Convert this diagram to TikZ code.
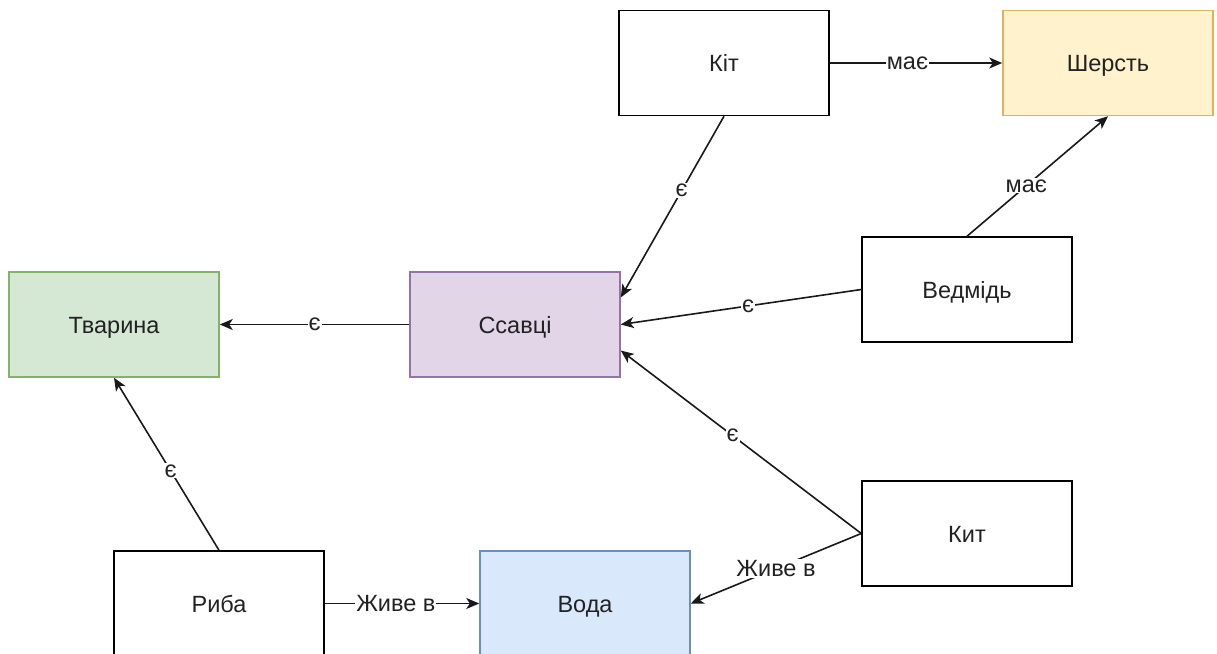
\documentclass[tikz,border=0pt]{standalone}
\usepackage{fontspec}
\setmainfont{Liberation Sans}
\usetikzlibrary{arrows.meta}
\definecolor{txt}{HTML}{222222}
\definecolor{greenF}{HTML}{D5E8D4}\definecolor{greenD}{HTML}{82B366}
\definecolor{purpF}{HTML}{E1D5E7}\definecolor{purpD}{HTML}{9673A6}
\definecolor{yelF}{HTML}{FFF2CC}\definecolor{yelD}{HTML}{D6B656}
\definecolor{blueF}{HTML}{DAE8FC}\definecolor{blueD}{HTML}{6C8EBF}
\tikzset{
  box/.style={draw=black, fill=white, line width=1.5pt, minimum width=210pt, minimum height=105pt,
    inner sep=0pt, font=\fontsize{23.5}{26}\selectfont, text=txt,
    text height=17pt, text depth=0pt},
  rel/.style={draw=black!90, line width=1.6pt, -{Stealth[length=13pt,width=11pt,inset=3.5pt]}},
  lbl/.style={fill=white, inner sep=1pt, font=\fontsize{23.5}{26}\selectfont, text=txt},
}
\begin{document}
\begin{tikzpicture}[x=1pt,y=-1pt]
\useasboundingbox (0,0) rectangle (1217,653);
\clip (0,0) rectangle (1217,653);
% concepts
\node[box] (kit) at (724,63) {Кіт};
\node[box, fill=yelF, draw=yelD] (sherst) at (1108,63) {Шерсть};
\node[box, fill=greenF, draw=greenD] (tvaryna) at (114,324.5) {Тварина};
\node[box, fill=purpF, draw=purpD] (ssavtsi) at (515,324.5) {Ссавці};
\node[box] (vedmid) at (967,289.5) {Ведмідь};
\node[box] (kyt) at (967,533.5) {Кит};
\node[box] (ryba) at (219,603.5) {Риба};
\node[box, fill=blueF, draw=blueD] (voda) at (585,603.5) {Вода};
% relations
\draw[rel] (kit.east) -- node[lbl, pos=0.45] {має} (sherst.west);
\draw[rel] (vedmid.north) -- node[lbl, pos=0.42] {має} (sherst.south);
\draw[rel] (kit.south) -- node[lbl, pos=0.41] {є} ([yshift=27pt]ssavtsi.east);
\draw[rel] (vedmid.west) -- node[lbl, pos=0.47] {є} (ssavtsi.east);
\draw[rel] (kyt.west) -- node[lbl, pos=0.535] {є} ([yshift=-26pt]ssavtsi.east);
\draw[rel] (ssavtsi.west) -- node[lbl, pos=0.5] {є} (tvaryna.east);
\draw[rel] (ryba.north) -- node[lbl, pos=0.46] {є} (tvaryna.south);
\draw[rel] (ryba.east) -- node[lbl, pos=0.46] {Живе в} (voda.west);
\draw[rel] (kyt.west) -- node[lbl, pos=0.5] {Живе в} (voda.east);
\end{tikzpicture}
\end{document}
